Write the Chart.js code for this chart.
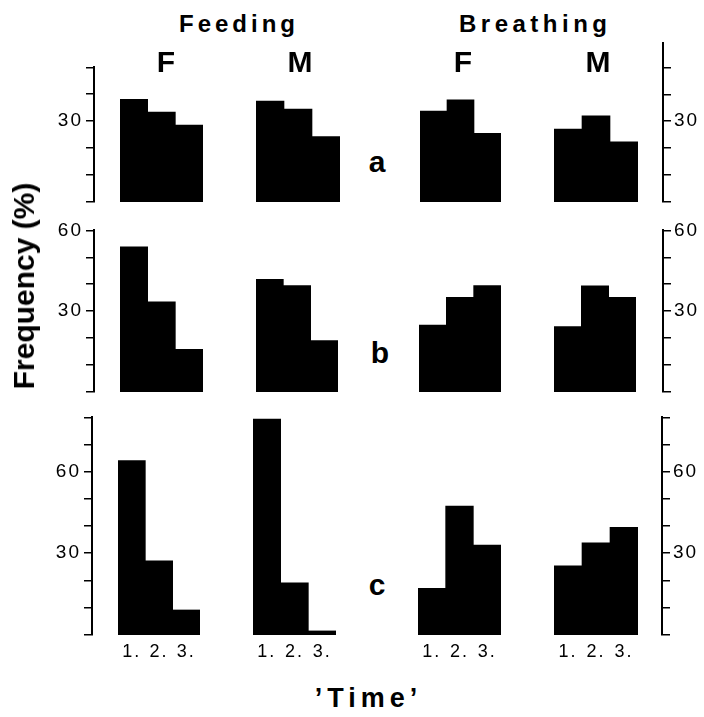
<!DOCTYPE html>
<html>
<head>
<meta charset="utf-8">
<script src="https://cdn.jsdelivr.net/npm/chart.js@4.4.0/dist/chart.umd.min.js"></script>
<style>
  body { margin: 0; background: #fff; width: 704px; height: 717px; position: relative; overflow: hidden;
         font-family: "Liberation Sans", Arial, sans-serif; color: #000; }
  canvas { position: absolute; }
  .t { position: absolute; white-space: nowrap; font-weight: bold; line-height: 1; transform: translateX(-50%); }
</style>
</head>
<body>
<script>
// time periods on the x axis
const timeLabels = ['1.', '2.', '3.']
const labelledTicks = [30, 60]

// row a
const feedingF_a = [38, 33.3, 28.5]
const feedingM_a = [37.4, 34.4, 24.2]
const breathingF_a = [33.7, 37.8, 25.4]
const breathingM_a = [27, 31.9, 22.3]
// row b
const feedingF_b = [53.8, 33.4, 15.8]
const feedingM_b = [41.7, 39.4, 19]
const breathingF_b = [24.8, 35.1, 39.4]
const breathingM_b = [24.2, 39.3, 35.1]
// row c
const feedingF_c = [64.1, 27.3, 9.2]
const feedingM_c = [79.4, 19.2, 1.5]
const breathingF_c = [17.2, 47.4, 33.1]
const breathingM_c = [25.4, 33.9, 39.6]

const FONT = '"Liberation Sans", Arial, sans-serif'

const rows = [
  { zero: 202, ppu: 2.7, leftMax: 50, rightMax: 59, leftX: 94, rightX: 663, showX: false,
    sets: [feedingF_a, feedingM_a, breathingF_a, breathingM_a],
    lefts: [120, 256, 420, 554], rights: [203, 340, 501, 638] },
  { zero: 392, ppu: 2.7, leftMax: 60, rightMax: 60, leftX: 94, rightX: 663, showX: false,
    sets: [feedingF_b, feedingM_b, breathingF_b, breathingM_b],
    lefts: [120, 256, 419, 554], rights: [203, 338, 501, 636] },
  { zero: 635, ppu: 2.72, leftMax: 80, rightMax: 80, leftX: 92, rightX: 662, showX: true,
    sets: [feedingF_c, feedingM_c, breathingF_c, breathingM_c],
    lefts: [118, 253, 418, 554], rights: [200, 336, 501, 638] }
]

const spacing = {
  id: 'spacing',
  beforeDraw(chart) { chart.ctx.letterSpacing = '2px' }
}

function makeCanvas(x, y, w, h) {
  const c = document.createElement('canvas')
  c.width = w; c.height = h
  c.style.left = x + 'px'; c.style.top = y + 'px'
  c.style.width = w + 'px'; c.style.height = h + 'px'
  document.body.appendChild(c)
  return c
}

const baseOpts = {
  responsive: false, animation: false, events: [],
  plugins: { legend: { display: false }, tooltip: { enabled: false } }
}

function barPanel(row, values, left, right) {
  const max = Math.max(row.leftMax, row.rightMax)
  const top = Math.round(row.zero - max * row.ppu)
  const xh = row.showX ? 34 : 0
  const c = makeCanvas(left, top, right - left, row.zero - top + xh)
  new Chart(c, {
    type: 'bar',
    data: { labels: timeLabels, datasets: [{ data: values, backgroundColor: '#000', borderWidth: 0,
      barPercentage: 1, categoryPercentage: 1 }] },
    plugins: [spacing],
    options: Object.assign({}, baseOpts, {
      layout: { padding: 0 },
      scales: {
        x: { display: row.showX, grid: { display: false, drawTicks: false }, border: { display: false },
             ticks: { color: '#000', font: { size: 18, family: FONT }, padding: 6, maxRotation: 0 },
             afterFit: s => { s.height = xh } },
        y: { display: false, min: 0, max: (row.zero - top) / row.ppu }
      }
    })
  })
}

function axisPanel(row, side) {
  const max = side === 'left' ? row.leftMax : row.rightMax
  const W = 62, pad = 14
  const axisX = side === 'left' ? row.leftX : row.rightX
  const top = row.zero - max * row.ppu - pad
  const left = side === 'left' ? axisX - W : axisX - 4
  const c = makeCanvas(left, Math.round(top), W + 4, Math.round(max * row.ppu + 2 * pad))
  new Chart(c, {
    type: 'bar',
    data: { labels: [], datasets: [] },
    plugins: [spacing],
    options: Object.assign({}, baseOpts, {
      layout: { padding: { top: pad, bottom: pad, left: 0, right: 0 } },
      scales: {
        x: { display: false },
        y: {
          position: side, min: 0, max: max,
          afterBuildTicks: s => { s.ticks = s.ticks.filter(t => t.value % 10 === 0) },
          afterFit: s => { s.width = W },
          ticks: { stepSize: 10, color: '#000', padding: 3, font: { size: 19, family: FONT },
                   callback: v => labelledTicks.includes(v) ? String(v) : '' },
          grid: { drawOnChartArea: false, drawTicks: true, tickLength: 8, tickColor: '#000', lineWidth: 1.5 },
          border: { color: '#000', width: 2 }
        }
      }
    })
  })
}

rows.forEach(row => {
  row.sets.forEach((vals, i) => barPanel(row, vals, row.lefts[i], row.rights[i]))
  axisPanel(row, 'left')
  axisPanel(row, 'right')
})

// text labels, placed by baseline
function text(str, cx, baseline, size, ls) {
  const d = document.createElement('div')
  d.className = 't'
  d.textContent = str
  d.style.fontSize = size + 'px'
  d.style.left = cx + 'px'
  d.style.top = (baseline - 0.8465 * size) + 'px'
  if (ls) { d.style.letterSpacing = ls + 'px'; d.style.paddingLeft = ls + 'px' }
  document.body.appendChild(d)
}

text('Feeding', 237, 32, 24, 4)
text('Breathing', 533, 32, 24, 4.5)
text('F', 166, 72, 30)
text('M', 300, 72, 30)
text('F', 463, 72, 30)
text('M', 598, 72, 30)
text('a', 377, 172, 30)
text('b', 380, 363, 30)
text('c', 377, 595, 30)
text('\u2019Time\u2019', 366, 708, 27, 5)

const yt = document.createElement('div')
yt.className = 't'
yt.textContent = 'Frequency (%)'
yt.style.fontSize = '30px'
yt.style.left = '24px'
yt.style.top = '286px'
yt.style.transform = 'translate(-50%, -50%) rotate(-90deg)'
document.body.appendChild(yt)
</script>
</body>
</html>
